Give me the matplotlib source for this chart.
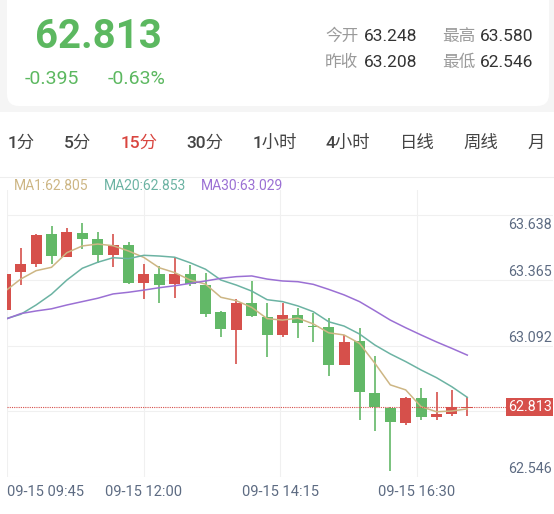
import matplotlib
matplotlib.use("Agg")
import matplotlib.pyplot as plt
import numpy as np
from matplotlib.patches import FancyBboxPatch, Rectangle
from matplotlib.transforms import IdentityTransform

plt.rcParams['font.family'] = ['Roboto', 'Noto Sans CJK SC', 'DejaVu Sans']

W, H = 554, 514

# 15 min candles, 09-15 09:45 .. 17:15
opens = [63.217, 63.377, 63.409, 63.533, 63.439, 63.539, 63.513, 63.446, 63.488, 63.331,
         63.367, 63.324, 63.367, 63.321, 63.210, 63.134, 63.248, 63.189, 63.113, 63.196,
         63.150, 63.147, 62.988, 63.088, 62.873, 62.809, 62.748, 62.852, 62.772, 62.784, 62.809]
highs = [63.372, 63.474, 63.532, 63.568, 63.560, 63.580, 63.543, 63.533, 63.502, 63.409,
         63.402, 63.439, 63.405, 63.373, 63.212, 63.263, 63.338, 63.246, 63.245, 63.224,
         63.206, 63.185, 63.113, 63.143, 63.027, 62.812, 62.854, 62.891, 62.877, 62.884, 62.853]
lows = [63.212, 63.321, 63.396, 63.408, 63.437, 63.471, 63.412, 63.395, 63.324, 63.261,
        63.248, 63.266, 63.317, 63.189, 63.103, 62.992, 63.187, 63.020, 63.106, 63.102,
        63.085, 62.942, 62.986, 62.759, 62.711, 62.546, 62.739, 62.759, 62.759, 62.775, 62.775]
closes = [63.367, 63.408, 63.530, 63.443, 63.541, 63.513, 63.446, 63.488, 63.328, 63.366,
          63.321, 63.366, 63.325, 63.200, 63.137, 63.245, 63.192, 63.113, 63.196, 63.162,
          63.145, 62.988, 63.085, 62.877, 62.812, 62.752, 62.852, 62.770, 62.784, 62.812, 62.813]

ma1 = [63.296, 63.346, 63.381, 63.395, 63.456, 63.484, 63.492, 63.485, 63.463, 63.436,
       63.393, 63.373, 63.342, 63.325, 63.270, 63.256, 63.228, 63.181, 63.175, 63.183,
       63.159, 63.122, 63.113, 63.078, 62.995, 62.905, 62.884, 62.814, 62.793, 62.796, 62.805]
ma20 = [63.180, 63.199, 63.238, 63.283, 63.342, 63.391, 63.416, 63.435, 63.431, 63.445,
        63.442, 63.437, 63.414, 63.387, 63.342, 63.321, 63.296, 63.260, 63.252, 63.234,
        63.210, 63.168, 63.150, 63.117, 63.071, 63.034, 63.002, 62.967, 62.935, 62.897, 62.853]
ma30 = [63.178, 63.202, 63.213, 63.222, 63.238, 63.252, 63.266, 63.284, 63.291, 63.300,
        63.310, 63.318, 63.328, 63.338, 63.349, 63.356, 63.359, 63.346, 63.338, 63.335,
        63.324, 63.303, 63.280, 63.252, 63.214, 63.175, 63.143, 63.113, 63.084, 63.057, 63.029]

time_labels = ["09-15 09:45", "09-15 12:00", "09-15 14:15", "09-15 16:30"]
# bottom to top grid rows, second one is hidden behind the price tag
price_labels = ["62.546", "", "63.092", "63.365", "63.638"]
last_price = 62.813
change = "-0.395"
change_pct = "-0.63%"
quote_names = ["今开", "最高", "昨收", "最低"]
quote_values = ["63.248", "63.580", "63.208", "62.546"]
tabs = ["1分", "5分", "15分", "30分", "1小时", "4小时", "日线", "周线", "月"]
active_tab = "15分"
ma_names = ["MA1", "MA20", "MA30"]

RED = "#d6504b"
GREEN = "#62b867"
AXIS_TXT = "#5d6b82"
GRID = "#f0f0f0"
MA_COLORS = ["#cdb684", "#6cb3a3", "#9b70d4"]


def fx(px):
    return px / W


def fy(py):
    return 1 - py / H


fig = plt.figure(figsize=(W / 100, H / 100), dpi=100)
fig.patch.set_facecolor("white")
r = fig.canvas.get_renderer()

# header card
fig.add_artist(Rectangle((0, fy(112)), 1, 112 / H, transform=fig.transFigure,
                         fc="#f5f5f5", ec="none", zorder=0))
fig.add_artist(FancyBboxPatch((7, H - 106), 542, 140, boxstyle="round,pad=0,rounding_size=12",
                              transform=IdentityTransform(), fc="white", ec="none", zorder=0.5))

fig.text(fx(35), fy(48), f"{last_price:.3f}", fontsize=29, fontweight="bold", color="#5cb860", va="baseline")
fig.text(fx(25), fy(84), change, fontsize=14, color="#5cb860", va="baseline")
fig.text(fx(108), fy(84), change_pct, fontsize=14, color="#5cb860", va="baseline")

qx_name = [325, 442]
qx_val = [364, 480]
q_base = [41, 67]
for k, (nm, val) in enumerate(zip(quote_names, quote_values)):
    row, col = k // 2, k % 2
    fig.text(fx(qx_name[col]), fy(q_base[row]), nm, fontsize=12, color="#9a9a9a", va="baseline")
    fig.text(fx(qx_val[col]), fy(q_base[row]), val, fontsize=12.5, color="#333333", va="baseline")

# period tabs
x = 8
for t in tabs:
    col = "#d9453f" if t == active_tab else "#444444"
    txt = fig.text(fx(x), fy(148), t, fontsize=12.5, fontweight="medium", color=col, va="baseline")
    x += txt.get_window_extent(r).width + 29

fig.add_artist(plt.Line2D([0, 1], [fy(177), fy(177)], transform=fig.transFigure,
                          color="#eeeeee", lw=0.8))

# MA legend
last_vals = [ma1[-1], ma20[-1], ma30[-1]]
x = 14
for nm, v, c in zip(ma_names, last_vals, MA_COLORS):
    txt = fig.text(fx(x), fy(190), f"{nm}:{v:.3f}", fontsize=10, color=c, va="baseline")
    x += txt.get_window_extent(r).width + 15

# chart
ax = fig.add_axes([fx(7), fy(477), (553 - 7) / W, (477 - 190) / H])
ax.set_facecolor("none")
px_per_bar, x0_px = 15.4, 5.3
ax.set_xlim((7 - x0_px) / px_per_bar, (553 - x0_px) / px_per_bar)
y_lo, step = 62.521, 0.273
ax.set_ylim(y_lo, y_lo + (477 - 190) * step / 65.5)
for s in ax.spines.values():
    s.set_visible(False)

xl = ax.get_xlim()
xg = [xl[0] + f * (xl[1] - xl[0]) for f in (0, 0.25, 0.5, 0.75)]
for v in xg:
    ax.axvline(v, color=GRID, lw=0.8, zorder=0)
yg = [y_lo + k * step for k in range(5)]
for v in yg:
    ax.axhline(v, color=GRID, lw=0.8, zorder=0)

ax.set_xticks(xg)
ax.set_xticklabels(time_labels)
ax.tick_params(axis="x", length=0, pad=6, labelsize=10.5, labelcolor=AXIS_TXT)
ax.get_xticklabels()[0].set_ha("left")
ax.set_yticks([])

for k, (v, lab) in enumerate(zip(yg, price_labels)):
    if not lab:
        continue
    off = -10 if k == len(yg) - 1 else 3
    ax.annotate(lab, xy=(1, v), xycoords=("axes fraction", "data"), xytext=(-1, off),
                textcoords="offset points", ha="right", va="baseline", fontsize=10.3,
                color=AXIS_TXT, zorder=3)

o = np.array(opens)
c = np.array(closes)
idx = np.arange(len(o))
colors = [RED if cc >= oo else GREEN for oo, cc in zip(o, c)]
ax.vlines(idx, lows, highs, colors=colors, lw=1.2, zorder=2)
ax.bar(idx, np.maximum(np.abs(c - o), 0.005), bottom=np.minimum(o, c), width=0.72,
       color=colors, lw=0, zorder=2)

for series, col in zip([ma1, ma20, ma30], MA_COLORS):
    ax.plot(idx, series, color=col, lw=1.1, zorder=3)

ax.axhline(last_price, xmin=0, xmax=(508 - 7) / 546, color=RED, lw=0.8, ls=(0, (1, 1)), zorder=4)
ax.annotate(f"{last_price:.3f}", xy=(1, last_price), xycoords=("axes fraction", "data"),
            xytext=(-1, 0), textcoords="offset points", ha="right", va="center",
            fontsize=10.3, color="white", zorder=6,
            bbox=dict(boxstyle="square,pad=0.12", fc=RED, ec="none"))

fig.savefig("out.png", dpi=100)
